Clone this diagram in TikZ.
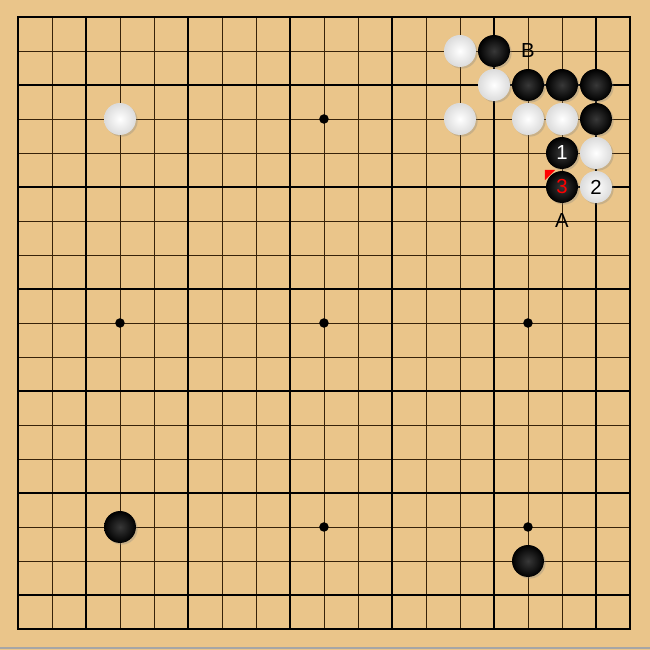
\documentclass[tikz,border=0pt]{standalone}
\usepackage{fontspec}
\newfontfamily\labelfont{Liberation Sans}
\usepackage{tikz}
\usetikzlibrary{shadows}
\definecolor{wood}{RGB}{234,197,138}
\definecolor{thinrulecol}{RGB}{55,35,10}
\tikzset{
  thinrule/.style={line width=0.75pt, thinrulecol},
  thickrule/.style={line width=1.15pt, black},
  stonetext/.style={font=\labelfont\fontsize{17}{17}\selectfont},
  stonebase/.style={shape=circle, draw=none, inner sep=0pt, minimum size=0.94cm, stonetext,
    drop shadow={shadow xshift=0.05cm, shadow yshift=-0.05cm, opacity=0.3}},
  blackstone/.style={stonebase, inner color=black!78, outer color=black, text=white},
  whitestone/.style={stonebase, inner color=white, outer color=black!14, text=black}
}
\newcommand{\bstone}[4]{\node[blackstone] (#1) at ( #2 , #3 ) {#4};}
\newcommand{\wstone}[4]{\node[whitestone] (#1) at ( #2 , #3 ) {#4};}
\newcommand{\hoshi}[3]{\node[shape=circle, fill=black, inner sep=0pt, minimum size=0.28cm] (#1) at ( #2 , #3 ) {};}
\newcommand{\lablnode}[4]{\node[stonetext, inner sep=0pt] (#1) at ( #2 , #3 ) {#4};}
\begin{document}
\begin{tikzpicture}

        % board
        \useasboundingbox (-0.529,-0.618) rectangle (18.588,18.5);
        \fill[wood] (-0.529,-0.618) rectangle (18.588,18.5);
        \draw[gray!70, line width=1.2pt] (-0.529,-0.56) -- (18.588,-0.56);

        % lines
        \draw[thinrule] (0,0) grid (18,18);
        \draw[thickrule] (2,0) -- (2,18);
        \draw[thickrule] (5,0) -- (5,18);
        \draw[thickrule] (8,0) -- (8,18);
        \draw[thickrule] (11,0) -- (11,18);
        \draw[thickrule] (14,0) -- (14,18);
        \draw[thickrule] (17,0) -- (17,18);
        \draw[thickrule] (0,16) -- (18,16);
        \draw[thickrule] (0,13) -- (18,13);
        \draw[thickrule] (0,10) -- (18,10);
        \draw[thickrule] (0,7) -- (18,7);
        \draw[thickrule] (0,4) -- (18,4);
        \draw[thickrule] (0,1) -- (18,1);
        \draw[thickrule, line width=1.5pt] (0,0) rectangle (18,18);

        % star points
        \hoshi{h1}{9}{15}
        \hoshi{h2}{3}{9}
        \hoshi{h3}{9}{9}
        \hoshi{h4}{15}{9}
        \hoshi{h5}{9}{3}
        \hoshi{h6}{15}{3}

        % white
        \wstone{w1}{13}{17}{}
        \wstone{w2}{14}{16}{}
        \wstone{w3}{3}{15}{}
        \wstone{w4}{13}{15}{}
        \wstone{w5}{15}{15}{}
        \wstone{w6}{16}{15}{}
        \wstone{w7}{17}{14}{}
        \wstone{w8}{17}{13}{2}

        % black
        \bstone{b1}{14}{17}{}
        \bstone{b2}{15}{16}{}
        \bstone{b3}{16}{16}{}
        \bstone{b4}{17}{16}{}
        \bstone{b5}{17}{15}{}
        \bstone{b6}{16}{14}{1}
        \bstone{b7}{16}{13}{\color{red}3}
        \bstone{b8}{3}{3}{}
        \bstone{b9}{15}{2}{}

        % last move
        \fill[red] (b7.center) ++(-0.5,0.5) -- ++(0.3,0) -- ++(-0.3,-0.3) -- cycle;

        % labels
        \lablnode{lB}{15}{17}{B}
        \lablnode{lA}{16}{12}{A}

\end{tikzpicture}
\end{document}
